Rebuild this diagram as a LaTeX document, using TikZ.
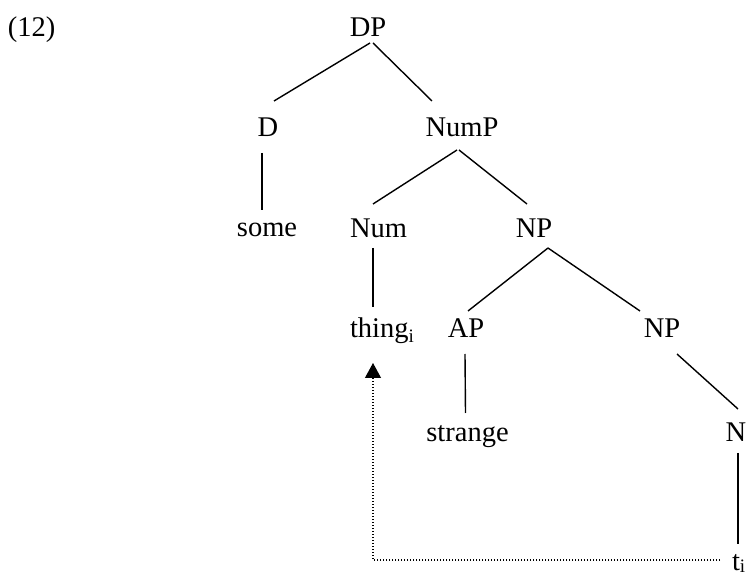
\documentclass[tikz,border=0pt]{standalone}
\usepackage{fontspec}
\setmainfont{Liberation Serif}
\usetikzlibrary{arrows.meta}
\newcommand\trsub[2][-5pt]{\raisebox{#1}{\fontsize{19}{19}\selectfont #2}}
\begin{document}
\begin{tikzpicture}[x=1pt,y=-1pt,
  lbl/.style={inner sep=0pt, outer sep=0pt, font=\fontsize{28.5}{30}\selectfont, anchor=base},
  branch/.style={line width=1.4pt},
  movearrow/.style={line width=1.1pt, dash pattern=on 1pt off 2pt, -{Triangle[width=16pt,length=15pt]}}]
\useasboundingbox (0,0) rectangle (748,577);
\node[lbl, anchor=base west] (ex) at (8,37) {(12)};
\node[lbl] (dp) at (368,37) {DP};
\node[lbl] (d) at (268,137) {D};
\node[lbl] (nump) at (462,137) {NumP};
\node[lbl] (some) at (267,237) {some};
\node[lbl] (num) at (378.5,238) {Num};
\node[lbl] (np2) at (534,238) {NP};
\node[lbl, anchor=base west] (thing) at (350,338) {thing\trsub{i}};
\node[lbl] (ap) at (466,338) {AP};
\node[lbl] (np3) at (662,338) {NP};
\node[lbl] (strange) at (467.5,442) {strange};
\node[lbl] (n) at (736,442) {N};
\node[lbl, anchor=base west] (t) at (732,571) {t\trsub[-1.5pt]{i}};
% branches
\draw[branch] ([shift={(2,6)}]dp.base) -- ([shift={(6,-36)}]d.base);
\draw[branch] ([shift={(5,6)}]dp.base) -- ([shift={(-30,-36)}]nump.base);
\draw[branch] ([shift={(-6,16)}]d.base) -- ([shift={(-5,-27)}]some.base);
\draw[branch] ([shift={(-5,13)}]nump.base) -- ([shift={(-5.5,-34)}]num.base);
\draw[branch] ([shift={(-3,13)}]nump.base) -- ([shift={(-7,-34)}]np2.base);
\draw[branch] ([shift={(-5.5,10)}]num.base) -- ([shift={(23,-31)}]thing.base west);
\draw[branch] ([shift={(14,10)}]np2.base) -- ([shift={(2,-27)}]ap.base);
\draw[branch] ([shift={(14,10)}]np2.base) -- ([shift={(-22,-27)}]np3.base);
\draw[branch] ([shift={(-1,16)}]ap.base) -- ([shift={(-2,-29)}]strange.base);
\draw[branch] ([shift={(15,16)}]np3.base) -- ([shift={(2,-33)}]n.base);
\draw[branch] ([shift={(2,11)}]n.base) -- ([shift={(6,-27)}]t.base west);
% movement
\draw[movearrow] ([shift={(-12,-11)}]t.base west) -| ([shift={(23,25)}]thing.base west);
\end{tikzpicture}
\end{document}
